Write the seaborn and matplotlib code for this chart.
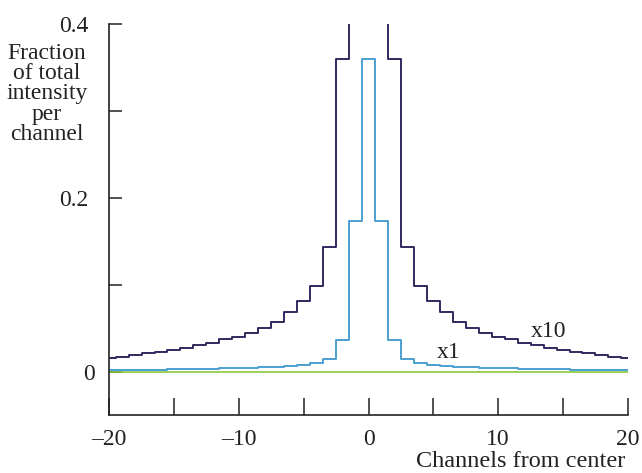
import matplotlib
matplotlib.use("Agg")
import matplotlib.pyplot as plt
import matplotlib.transforms as mtransforms
import seaborn as sns
import pandas as pd

channels = list(range(-20, 21))
x10_values = [0.016, 0.017, 0.019, 0.021, 0.023, 0.025, 0.027, 0.030, 0.033, 0.037,
              0.040, 0.044, 0.050, 0.057, 0.068, 0.081, 0.099, 0.143, 0.360, 1.73,
              3.60,
              1.73, 0.360, 0.143, 0.099, 0.081, 0.068, 0.057, 0.050, 0.044, 0.040,
              0.037, 0.033, 0.030, 0.027, 0.025, 0.023, 0.021, 0.019, 0.017, 0.016]
x1_values = [0.0016, 0.0017, 0.0019, 0.0021, 0.0023, 0.0025, 0.0027, 0.0030, 0.0033, 0.0037,
             0.0040, 0.0044, 0.0050, 0.0057, 0.0068, 0.0081, 0.0099, 0.0143, 0.036, 0.173,
             0.360,
             0.173, 0.036, 0.0143, 0.0099, 0.0081, 0.0068, 0.0057, 0.0050, 0.0044, 0.0040,
             0.0037, 0.0033, 0.0030, 0.0027, 0.0025, 0.0023, 0.0021, 0.0019, 0.0017, 0.0016]
zero_values = [0.0] * len(channels)

y_ticks = [0.0, 0.1, 0.2, 0.3, 0.4]
y_tick_labels = ["0", "", "0.2", "", "0.4"]
x_ticks = [-20, -15, -10, -5, 0, 5, 10, 15, 20]
x_tick_labels = ["\u201320", "", "\u201310", "", "0", "", "10", "", "20"]

df = pd.DataFrame({"ch": channels, "x10": x10_values, "x1": x1_values, "zero": zero_values})

sns.set_style("ticks")
plt.rcParams["font.family"] = ["Liberation Serif", "DejaVu Serif"]

fig = plt.figure(figsize=(6.42, 4.73), dpi=100)
ax = fig.add_axes([0.170, 0.1226, 0.808, 0.8267])

sns.lineplot(data=df, x="ch", y="zero", ax=ax, color="#8cc63f", linewidth=1.2,
             drawstyle="steps-mid")
sns.lineplot(data=df, x="ch", y="x1", ax=ax, color="#4a9fcf", linewidth=1.4,
             drawstyle="steps-mid")
sns.lineplot(data=df, x="ch", y="x10", ax=ax, color="#2f2a5e", linewidth=1.4,
             drawstyle="steps-mid")

ax.set_xlim(-20, 20)
ax.set_ylim(-0.05, 0.4)
ax.set_xticks(x_ticks)
ax.set_xticklabels(x_tick_labels)
ax.set_yticks(y_ticks)
ax.set_yticklabels(y_tick_labels)
ax.tick_params(axis="x", direction="in", length=12, width=1.1, pad=10, labelsize=17, colors="#222222")
ax.tick_params(axis="y", direction="in", length=9, width=1.1, pad=15, labelsize=17, colors="#222222")
for lab in ax.get_yticklabels():
    if lab.get_text() == "0":
        lab.set_transform(lab.get_transform() +
                          mtransforms.ScaledTranslation(7 / 100, 0, fig.dpi_scale_trans))
sns.despine(ax=ax)
for s in ["left", "bottom"]:
    ax.spines[s].set_linewidth(1.2)
    ax.spines[s].set_color("#222222")
ax.set_xlabel("")
ax.set_ylabel("")

ax.text(12.55, 0.0466, "x10", fontsize=17, color="#222222", va="center", ha="left")
ax.text(5.3, 0.0224, "x1", fontsize=17, color="#222222", va="center", ha="left")

fig.text(47 / 642, 1 - 94 / 473, "Fraction\nof total\nintensity\nper\nchannel",
         ha="center", va="center", fontsize=17, color="#222222", linespacing=0.95)
fig.text(625 / 642, 1 / 473, "Channels from center", ha="right", va="bottom",
         fontsize=17.5, color="#222222")

fig.savefig("out.png", dpi=100)
